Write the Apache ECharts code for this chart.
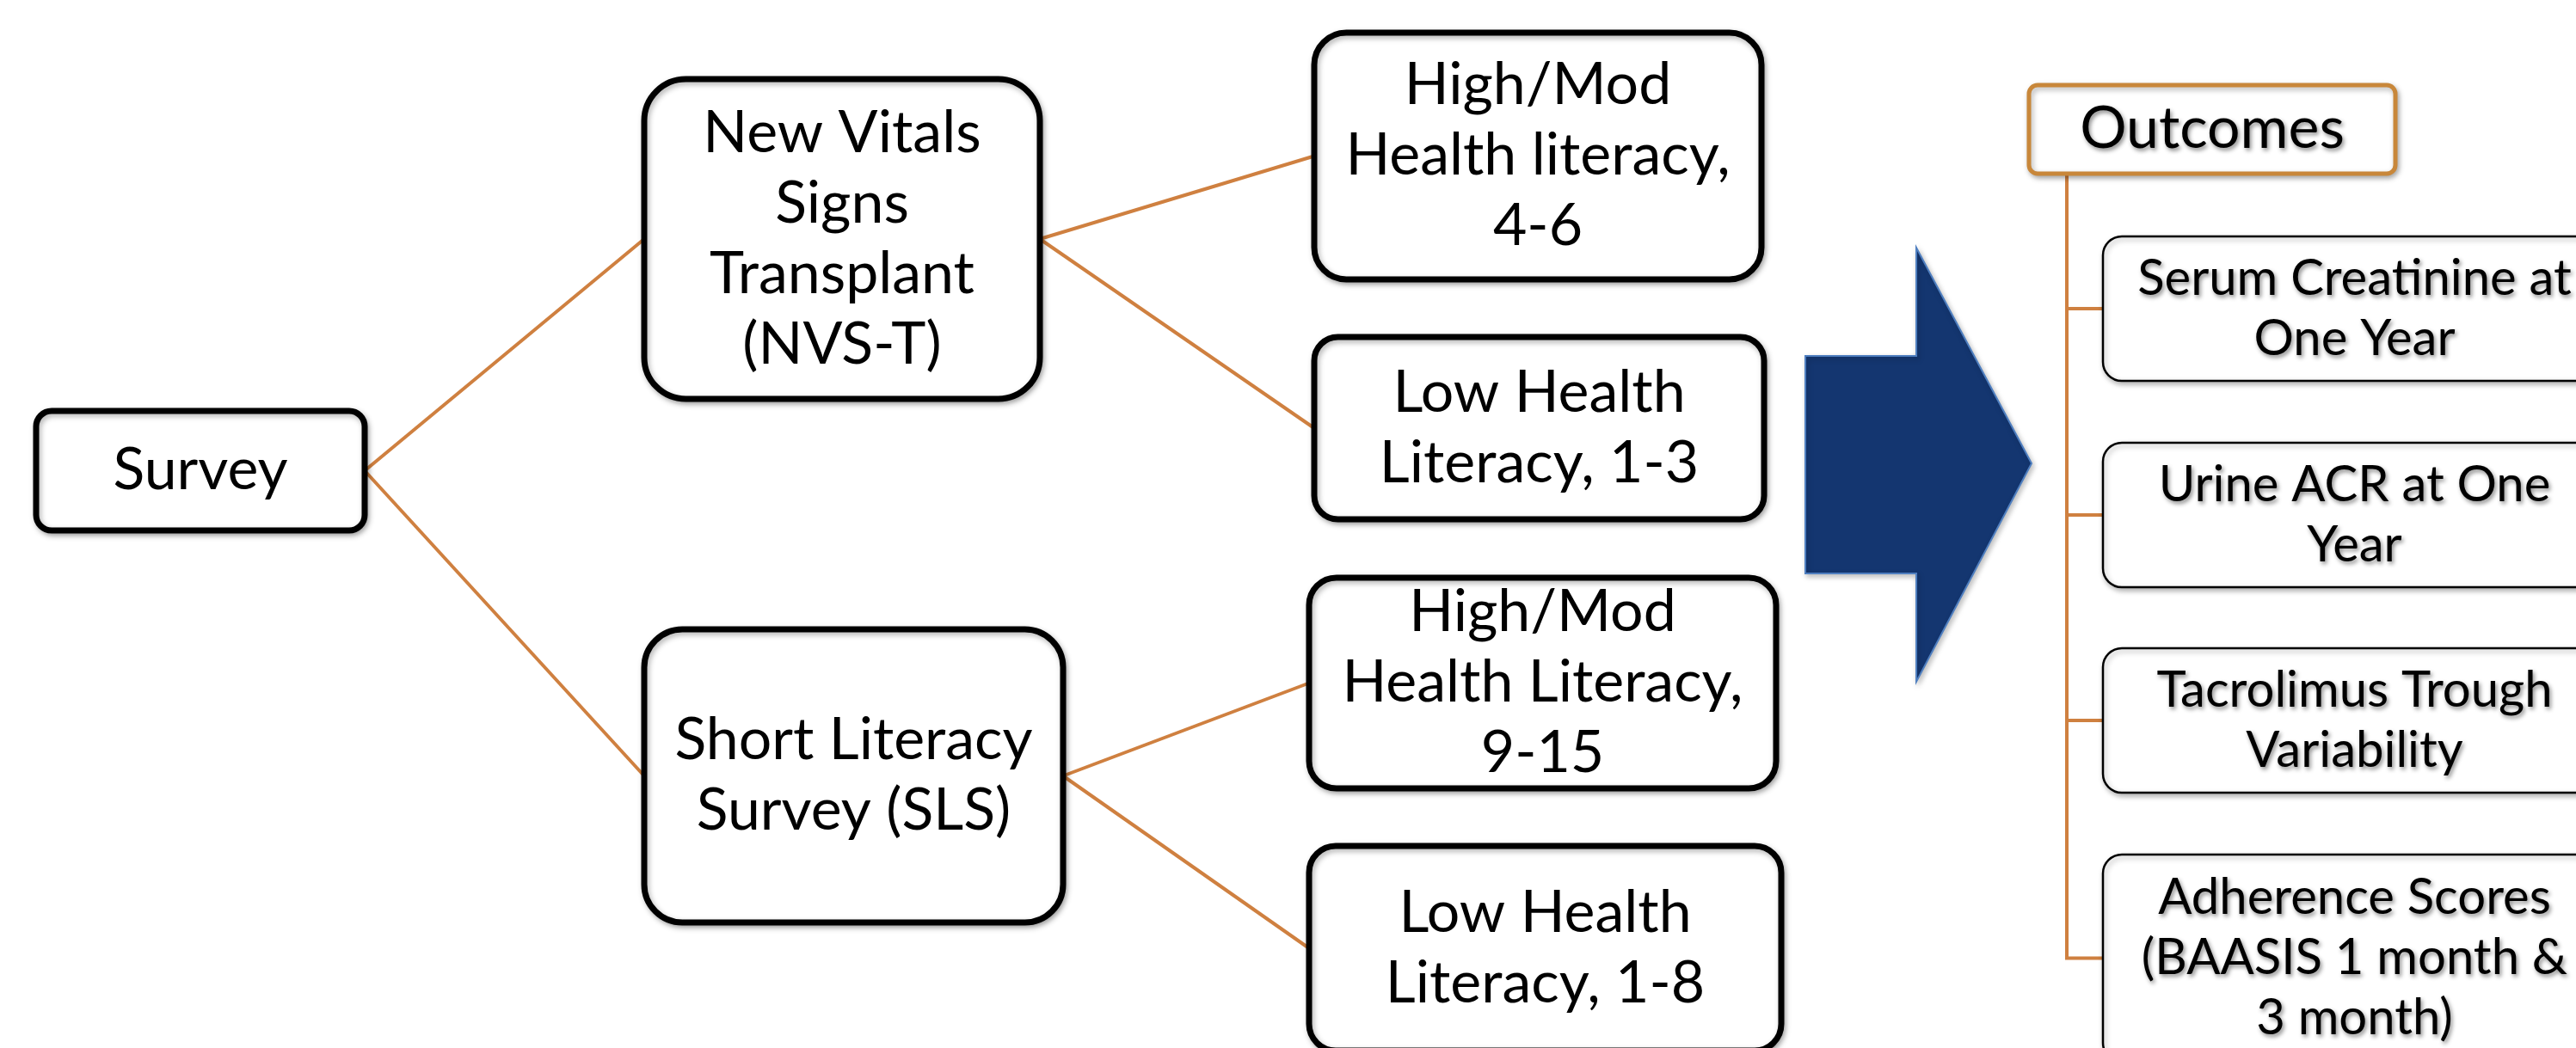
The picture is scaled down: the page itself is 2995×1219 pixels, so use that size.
<!DOCTYPE html>
<html>
<head>
<meta charset="utf-8">
<script src="https://cdn.jsdelivr.net/npm/echarts@6/dist/echarts.min.js"></script>
<style>
html, body { margin: 0; padding: 0; background: #fff; }
#main { width: 2995px; height: 1219px; }
</style>
</head>
<body>
<div id="main"></div>
<script>
// diagram text
var rootLabel = 'Survey';
var instrumentLabels = ['New Vitals\nSigns\nTransplant\n(NVS-T)', 'Short Literacy\nSurvey (SLS)'];
var literacyLabels = ['High/Mod\nHealth literacy,\n4-6', 'Low Health\nLiteracy, 1-3', 'High/Mod\nHealth Literacy,\n9-15', 'Low Health\nLiteracy, 1-8'];
var literacyParent = [0, 0, 1, 1];
var outcomeTitle = 'Outcomes';
var outcomeLabels = ['Serum Creatinine at\nOne Year', 'Urine ACR at One\nYear', 'Tacrolimus Trough\nVariability', 'Adherence Scores\n(BAASIS 1 month &\n3 month)'];

// placement in page pixels: [left, top, right, bottom]
var rootBox = [42, 478, 424, 617];
var instrumentBoxes = [[749, 92, 1209, 464], [749, 732, 1236, 1073]];
var literacyBoxes = [[1528, 38, 2048, 325], [1528, 392, 2051, 604], [1522, 672, 2065, 917], [1522, 984, 2071, 1222]];
var titleBox = [2359, 99, 2785, 202];
var outcomeBoxes = [[2445, 275, 3030, 443], [2445, 515, 3030, 683], [2445, 754, 3030, 922], [2445, 994, 3030, 1235]];
var trunkX = 2403;
var arrowShape = [[2099, 414], [2228, 414], [2228, 288], [2362, 539], [2228, 793], [2228, 667], [2099, 667]];

var FONT = 'Lato, "Open Sans", sans-serif';
var ORANGE = '#cf8040';

var styles = {
    main: {stroke: '#000', lineWidth: 7, size: 68, lh: 82, shadow: false},
    title: {stroke: '#c8873a', lineWidth: 5, size: 68, lh: 80, shadow: true},
    outcome: {stroke: '#000', lineWidth: 2.5, size: 58, lh: 70, shadow: true}
};

// build nodes
var nodes = [];
function addNode(label, box, kind) {
    nodes.push({label: label, box: box, kind: kind});
    return nodes.length - 1;
}
addNode(rootLabel, rootBox, 'main');
var instIds = instrumentLabels.map(function (l, i) { return addNode(l, instrumentBoxes[i], 'main'); });
var litIds = literacyLabels.map(function (l, i) { return addNode(l, literacyBoxes[i], 'main'); });
addNode(outcomeTitle, titleBox, 'title');
outcomeLabels.forEach(function (l, i) { addNode(l, outcomeBoxes[i], 'outcome'); });

function rightMid(b) { return [b[2], (b[1] + b[3]) / 2]; }
function leftMid(b) { return [b[0], (b[1] + b[3]) / 2]; }

// connectors
var links = [];
instIds.forEach(function (id) {
    links.push([rightMid(rootBox), leftMid(nodes[id].box)]);
});
litIds.forEach(function (id, i) {
    links.push([rightMid(nodes[instIds[literacyParent[i]]].box), leftMid(nodes[id].box)]);
});
var lastOut = outcomeBoxes[outcomeBoxes.length - 1];
links.push([[trunkX, titleBox[3]], [trunkX, (lastOut[1] + lastOut[3]) / 2]]);
outcomeBoxes.forEach(function (b) {
    var cy = (b[1] + b[3]) / 2;
    links.push([[trunkX - 2, cy], [b[0], cy]]);
});

var myChart = echarts.init(document.getElementById('main'));

var option = {
    animation: false,
    grid: {left: 0, right: 0, top: 0, bottom: 0},
    xAxis: {type: 'value', min: 0, max: 2995, show: false},
    yAxis: {type: 'value', min: 0, max: 1219, inverse: true, show: false},
    series: [
        {
            type: 'custom',
            clip: false,
            data: links.map(function (l) { return l[0]; }),
            renderItem: function (params, api) {
                var pts = links[params.dataIndex].map(function (p) { return api.coord(p); });
                return {
                    type: 'polyline',
                    shape: {points: pts},
                    style: {stroke: ORANGE, lineWidth: 4, fill: null}
                };
            }
        },
        {
            type: 'custom',
            clip: false,
            data: [arrowShape[0]],
            renderItem: function (params, api) {
                return {
                    type: 'polygon',
                    shape: {points: arrowShape.map(function (p) { return api.coord(p); })},
                    style: {
                        fill: '#143670', stroke: '#4f7fc0', lineWidth: 2,
                        shadowBlur: 6, shadowColor: 'rgba(0,0,0,0.25)', shadowOffsetX: 2, shadowOffsetY: 3
                    }
                };
            }
        },
        {
            type: 'custom',
            clip: false,
            data: nodes.map(function (n) { return [n.box[0], n.box[1]]; }),
            renderItem: function (params, api) {
                var n = nodes[params.dataIndex];
                var s = styles[n.kind];
                var p0 = api.coord([n.box[0], n.box[1]]);
                var p1 = api.coord([n.box[2], n.box[3]]);
                var w = p1[0] - p0[0], h = p1[1] - p0[1];
                var r = n.kind === 'outcome' ? 22 : (n.kind === 'title' ? 10 : Math.min(w, h) * 0.13);
                var textStyle = {
                    text: n.label,
                    x: p0[0] + w / 2,
                    y: p0[1] + h / 2,
                    align: 'center',
                    verticalAlign: 'middle',
                    fontFamily: FONT,
                    fontSize: s.size,
                    lineHeight: s.lh,
                    fill: '#000'
                };
                if (s.shadow) {
                    textStyle.textShadowColor = 'rgba(0,0,0,0.45)';
                    textStyle.textShadowBlur = 5;
                    textStyle.textShadowOffsetX = 2;
                    textStyle.textShadowOffsetY = 3;
                }
                return {
                    type: 'group',
                    children: [
                        {
                            type: 'rect',
                            shape: {x: p0[0], y: p0[1], width: w, height: h, r: r},
                            style: {
                                fill: '#fff', stroke: s.stroke, lineWidth: s.lineWidth,
                                shadowBlur: 6, shadowColor: 'rgba(0,0,0,0.3)', shadowOffsetX: 2, shadowOffsetY: 3
                            }
                        },
                        {type: 'text', style: textStyle}
                    ]
                };
            }
        }
    ]
};
myChart.setOption(option);
</script>
</body>
</html>
